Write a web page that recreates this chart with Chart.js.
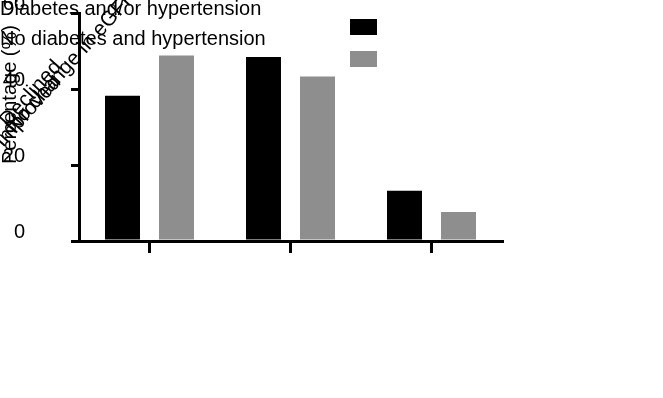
<!DOCTYPE html>
<html>
<head>
<meta charset="utf-8">
<script src="https://cdn.jsdelivr.net/npm/chart.js@4"></script>
<style>
  html, body { margin: 0; padding: 0; background: #fff; }
  #wrap { width: 663px; height: 398px; }
</style>
</head>
<body>
<div id="wrap"><canvas id="eGFRChart" width="663" height="398"></canvas></div>
<script>
// chart data
const categories = ['Improved', 'Declined', 'No change in eGFR'];
const seriesNames = ['Diabetes and/or hypertension', 'No diabetes and hypertension'];
const withDisease = [38.2, 48.4, 13.2];
const withoutDisease = [48.8, 43.3, 7.6];
const yTicks = [0, 20, 40, 60];

const FONT = 'Arial, "Liberation Sans", sans-serif';
const barColors = ['#000000', '#8e8e8e'];

// text + legend boxes drawn the same (odd) way the reference has them
const overlayText = {
    id: 'overlayText',
    afterDraw(chart) {
        const ctx = chart.ctx;
        ctx.save();
        ctx.fillStyle = '#000';
        ctx.font = '20px ' + FONT;
        ctx.textAlign = 'left';
        ctx.textBaseline = 'alphabetic';

        // series names top left
        ctx.fillText(seriesNames[0], 0, 15);
        ctx.fillText(seriesNames[1], 0, 45);

        // legend swatches
        chart.data.datasets.forEach(function(ds, i) {
            ctx.fillStyle = ds.backgroundColor;
            ctx.fillRect(350, 19 + i * 32, 27, 16);
        });

        // y axis title
        ctx.fillStyle = '#000';
        ctx.save();
        ctx.translate(16, 164);
        ctx.rotate(-Math.PI / 2);
        ctx.fillText('Percentage (%)', 0, 0);
        ctx.restore();

        // category labels, rotated, piled up at the left
        ctx.font = '21px ' + FONT;
        const starts = [[3, 148], [8, 128], [14, 134]];
        categories.forEach(function(label, i) {
            ctx.save();
            ctx.translate(starts[i][0], starts[i][1]);
            ctx.rotate(-48 * Math.PI / 180);
            ctx.fillText(label, 0, 0);
            ctx.restore();
        });
        ctx.restore();
    }
};

new Chart(document.getElementById('eGFRChart').getContext('2d'), {
    type: 'bar',
    data: {
        labels: categories,
        datasets: [
            {
                label: seriesNames[0],
                data: withDisease,
                backgroundColor: barColors[0],
                borderWidth: 0,
                categoryPercentage: 0.766,
                barPercentage: 0.648
            },
            {
                label: seriesNames[1],
                data: withoutDisease,
                backgroundColor: barColors[1],
                borderWidth: 0,
                categoryPercentage: 0.766,
                barPercentage: 0.648
            }
        ]
    },
    options: {
        responsive: false,
        animation: false,
        layout: {
            padding: { left: 0, right: 161, top: 13, bottom: 145 }
        },
        scales: {
            x: {
                ticks: { display: false },
                grid: {
                    display: true,
                    drawOnChartArea: false,
                    drawTicks: true,
                    tickLength: 12,
                    color: '#000',
                    lineWidth: 3,
                    offset: false
                },
                border: { display: true, color: '#000', width: 3 },
                afterFit: function(scale) { scale.height = 12; }
            },
            y: {
                min: 0,
                max: 60,
                afterBuildTicks: function(scale) {
                    scale.ticks = yTicks.map(v => ({ value: v }));
                },
                ticks: {
                    color: '#000',
                    font: { family: FONT, size: 20 },
                    padding: 46,
                    labelOffset: -9
                },
                grid: {
                    display: true,
                    drawOnChartArea: false,
                    drawTicks: true,
                    tickLength: 8,
                    color: '#000',
                    lineWidth: 3
                },
                border: { display: true, color: '#000', width: 3 },
                afterFit: function(scale) {
                    scale.width = 79;
                    // label padding would otherwise push the plot down
                    scale.paddingTop = 0;
                    scale.paddingBottom = 0;
                }
            }
        },
        plugins: {
            legend: { display: false },
            tooltip: { enabled: false }
        }
    },
    plugins: [overlayText]
});
</script>
</body>
</html>
